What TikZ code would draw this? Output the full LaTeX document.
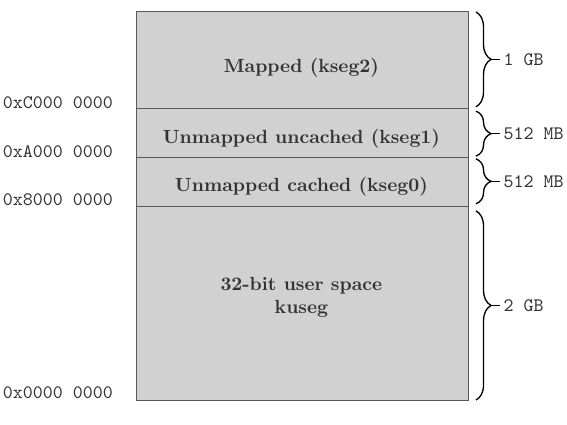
\documentclass[tikz,border=0pt]{standalone}
\usetikzlibrary{decorations.pathreplacing}
\begin{document}
\begin{tikzpicture}[
  seg/.style={fill=black!18, draw=black!65, line width=0.5pt},
  segtext/.style={font=\bfseries, text=black!80, align=center},
  addr/.style={font=\ttfamily, text=black!80, anchor=base east, inner sep=0pt},
  size/.style={font=\ttfamily, text=black!80, anchor=west, inner sep=1.5pt},
  memb/.style={decorate, decoration={brace, amplitude=0.28cm}, line width=0.7pt},
]
\useasboundingbox (-2.51,-0.46) rectangle (7.95,7.38);
% the four segments, bottom to top
\draw[seg] (0,0) rectangle (6.14,3.58);
\draw[seg] (0,3.58) rectangle (6.14,4.475);
\draw[seg] (0,4.475) rectangle (6.14,5.37);
\draw[seg] (0,5.37) rectangle (6.14,7.16);
\node[segtext] (kuseg) at (3.05,1.89) {32-bit user space\\kuseg};
\node[segtext] (kseg0) at (3.05,3.93) {Unmapped cached (kseg0)};
\node[segtext] (kseg1) at (3.05,4.82) {Unmapped uncached (kseg1)};
\node[segtext] (kseg2) at (3.05,6.13) {Mapped (kseg2)};
% start addresses
\node[addr] (a0) at (-0.42,0.02) {0x0000 0000};
\node[addr] (a8) at (-0.42,3.58) {0x8000 0000};
\node[addr] (aA) at (-0.42,4.475) {0xA000 0000};
\node[addr] (aC) at (-0.42,5.37) {0xC000 0000};
% sizes
\draw[memb] (6.27,7.16) -- (6.27,5.41) coordinate[midway] (m2);
\coordinate (t2) at ([xshift=0.28cm]m2);
\node[size] (s2) at ([xshift=0.45cm]m2) {1 GB};
\draw[line width=0.7pt] (t2) -- (s2.west);
\draw[memb] (6.27,5.33) -- (6.27,4.50) coordinate[midway] (m1);
\coordinate (t1) at ([xshift=0.28cm]m1);
\node[size] (s1) at ([xshift=0.45cm]m1) {512 MB};
\draw[line width=0.7pt] (t1) -- (s1.west);
\draw[memb] (6.27,4.45) -- (6.27,3.62) coordinate[midway] (m0);
\coordinate (t0) at ([xshift=0.28cm]m0);
\node[size] (s0) at ([xshift=0.45cm]m0) {512 MB};
\draw[line width=0.7pt] (t0) -- (s0.west);
\draw[memb] (6.27,3.49) -- (6.27,0) coordinate[midway] (mu);
\coordinate (tu) at ([xshift=0.28cm]mu);
\node[size] (su) at ([xshift=0.45cm]mu) {2 GB};
\draw[line width=0.7pt] (tu) -- (su.west);
\end{tikzpicture}
\end{document}
